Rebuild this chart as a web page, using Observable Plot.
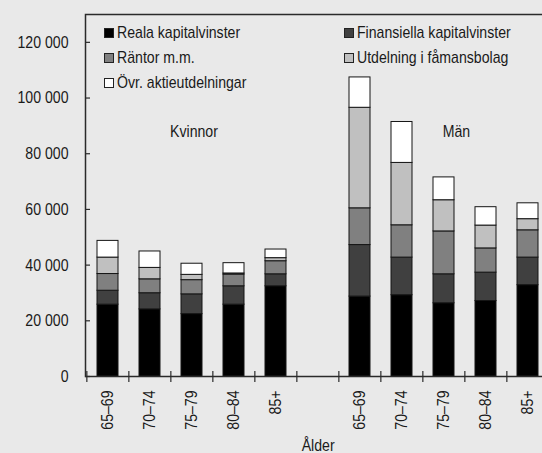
<!DOCTYPE html>
<html>
<head>
<meta charset="utf-8">
<script src="https://cdn.jsdelivr.net/npm/d3@7"></script>
<script src="https://cdn.jsdelivr.net/npm/@observablehq/plot@0.6"></script>
<style>
  html, body { margin: 0; padding: 0; background: #e9e9e9; overflow: hidden; }
  #wrap { position: relative; width: 542px; height: 453px; overflow: hidden; }
  #wrap svg { display: block; }
  .font { font-family: "Liberation Sans", Arial, sans-serif; }
  #legend { position: absolute; left: 0; top: 0; font-size: 17px; color: #1a1a1a; }
  .item { position: absolute; display: flex; align-items: center; white-space: nowrap; height: 20px; }
  .sw { width: 10px; height: 10px; border: 1px solid #222; box-sizing: border-box; margin-right: 3px; flex: none; }
  .lt { display: inline-block; transform: scaleX(0.83); transform-origin: 0 50%; }
</style>
</head>
<body>
<div id="wrap" class="font"></div>
<script>
// ---- data ----
const series = ["Reala kapitalvinster", "Finansiella kapitalvinster", "Räntor m.m.", "Utdelning i fåmansbolag", "Övr. aktieutdelningar"];
const colors = ["#000000", "#404040", "#808080", "#c0c0c0", "#ffffff"];
const ageGroups = ["65–69", "70–74", "75–79", "80–84", "85+"];
const groupLabels = ["Kvinnor", "Män"];
// values per age group, in series order
const reala_kvinnor = [25800, 24100, 22400, 25800, 32400];
const finans_kvinnor = [5000, 5800, 7100, 6600, 4300];
const rantor_kvinnor = [6000, 5000, 5100, 4200, 4700];
const utdelning_kvinnor = [5900, 4100, 1900, 400, 1100];
const ovr_kvinnor = [6000, 5900, 4000, 3700, 3100];
const reala_man = [28700, 29200, 26300, 27100, 32800];
const finans_man = [18500, 13500, 10400, 10200, 9900];
const rantor_man = [13200, 11600, 15400, 8700, 9800];
const utdelning_man = [36100, 22400, 11200, 8200, 4000];
const ovr_man = [10900, 14700, 8200, 6600, 5700];
const yTicks = [0, 20000, 40000, 60000, 80000, 100000, 120000];
const xAxisLabel = "Ålder";

// ---- build table ----
const kv = [reala_kvinnor, finans_kvinnor, rantor_kvinnor, utdelning_kvinnor, ovr_kvinnor];
const mn = [reala_man, finans_man, rantor_man, utdelning_man, ovr_man];
const kKeys = ageGroups.map(a => "K" + a);
const mKeys = ageGroups.map(a => "M" + a);
const xKeys = [...kKeys, "gap", ...mKeys];
const rows = [];
ageGroups.forEach((a, i) => series.forEach((s, j) => rows.push({key: "K" + a, series: s, value: kv[j][i]})));
ageGroups.forEach((a, i) => series.forEach((s, j) => rows.push({key: "M" + a, series: s, value: mn[j][i]})));

const W = 542, H = 453, ML = 85, MR = -8.3, MT = 14, MB = 77;
const step = (W - ML - MR) / xKeys.length;
const fmt = d => d3.format(",")(d).replace(/,/g, " ");
const SX = 0.83; // condensed look

const chart = Plot.plot({
  width: W, height: H,
  marginLeft: ML, marginRight: MR, marginTop: MT, marginBottom: MB,
  style: {background: "#e9e9e9", fontFamily: '"Liberation Sans", Arial, sans-serif', fontSize: "17px", color: "#1a1a1a"},
  x: {type: "band", domain: xKeys, paddingInner: 0.5, paddingOuter: 0.25, axis: null, label: null},
  y: {domain: [0, 130000], axis: null, label: null},
  color: {domain: series, range: colors},
  marks: [
    Plot.barY(rows, {x: "key", y: "value", fill: "series", stroke: "#151515", strokeWidth: 1}),
    Plot.frame({stroke: "#2a2a2a", strokeWidth: 1.5}),
    Plot.axisY({ticks: yTicks, tickSize: 0, tickPadding: 17, tickFormat: fmt, label: null}),
    Plot.axisY({ticks: yTicks, tickSize: 5, dx: 5, tickFormat: () => "", label: null, stroke: "#2a2a2a", strokeWidth: 1.2}),
    Plot.axisX({tickSize: 0, tickPadding: 14, tickRotate: -90, label: null,
      tickFormat: d => d === "gap" ? "" : d.slice(1)}),
    Plot.ruleX(xKeys, {x: d => d, y1: 0, y2: 0, insetTop: -5, insetBottom: -6, dx: -step / 2, stroke: "#2a2a2a", strokeWidth: 1.2}),
    Plot.text([groupLabels[0]], {x: () => kKeys[2], y: () => 88000, dx: 2, fill: "#1a1a1a"}),
    Plot.text([groupLabels[1]], {x: () => mKeys[2], y: () => 88000, dx: 12.5, fill: "#1a1a1a"}),
    Plot.text([xAxisLabel], {frameAnchor: "bottom", dy: 74, fill: "#1a1a1a"})
  ]
});
// compress glyphs horizontally (along the text direction) to mimic a condensed face
chart.querySelectorAll("text").forEach(t => {
  const tr = t.getAttribute("transform") || "";
  t.setAttribute("transform", (tr + ` scale(${SX},1)`).trim());
});
const wrap = document.getElementById("wrap");
wrap.appendChild(chart);

// ---- legend (inside plot area) ----
const legend = document.createElement("div");
legend.id = "legend";
const pos = [[104, 22.5], [344, 22.5], [104, 47.5], [344, 47.5], [104, 72.5]];
series.forEach((s, i) => {
  const it = document.createElement("div");
  it.className = "item";
  it.style.left = pos[i][0] + "px";
  it.style.top = pos[i][1] + "px";
  const sw = document.createElement("span");
  sw.className = "sw";
  sw.style.background = colors[i];
  const t = document.createElement("span");
  t.className = "lt";
  t.textContent = s;
  it.appendChild(sw); it.appendChild(t);
  legend.appendChild(it);
});
wrap.appendChild(legend);
</script>
</body>
</html>
